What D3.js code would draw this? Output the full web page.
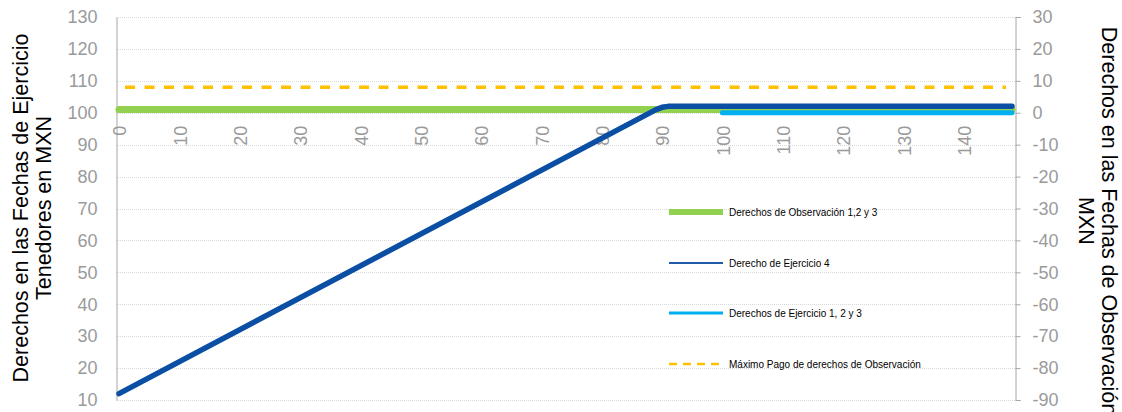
<!DOCTYPE html>
<html>
<head>
<meta charset="utf-8">
<script src="https://cdn.jsdelivr.net/npm/d3@7"></script>
<style>
  body { margin: 0; background: #fff; }
  svg { display: block; font-family: "Liberation Sans", Arial, sans-serif; }
</style>
</head>
<body>
<svg id="chart" width="1122" height="412"></svg>
<script>
// categories on the x axis (0..148) and the labels that are shown
var categories = d3.range(0, 149);
var xTickLabels = [0, 10, 20, 30, 40, 50, 60, 70, 80, 90, 100, 110, 120, 130, 140];
var leftTicks = [10, 20, 30, 40, 50, 60, 70, 80, 90, 100, 110, 120, 130];
var rightTicks = [-90, -80, -70, -60, -50, -40, -30, -20, -10, 0, 10, 20, 30];

// series, as [category, value on left axis] break points
var observacion = [[0, 101], [148, 101]];
var ejercicio4 = [[0, 12], [89, 101], [90, 101.7], [91, 102], [148, 102]];
var ejercicio123 = [[100, 100], [148, 100]];
var maximoPago = [[1, 108], [147, 108]];

var legendNames = [
  "Derechos de Observación 1,2 y 3",
  "Derecho de Ejercicio 4",
  "Derechos de Ejercicio 1, 2 y 3",
  "Máximo Pago de derechos de Observación"
];

var svg = d3.select("#chart");
var plotLeft = 116, plotRight = 1015, plotTop = 17, plotBottom = 400;

var x = d3.scaleBand().domain(categories).range([plotLeft, plotRight]).padding(0);
var y = d3.scaleLinear().domain([10, 130]).range([plotBottom, plotTop]);
var yRight = d3.scaleLinear().domain([-90, 30]).range([plotBottom, plotTop]);

function xc(c) { return x(c) + x.bandwidth() / 2; }

// gridlines
svg.append("g")
  .selectAll("line")
  .data(leftTicks)
  .enter()
  .append("line")
  .attr("x1", plotLeft)
  .attr("x2", plotRight)
  .attr("y1", function (d) { return Math.round(y(d)) + 0.5; })
  .attr("y2", function (d) { return Math.round(y(d)) + 0.5; })
  .style("stroke", "#d9d9d9")
  .style("stroke-dasharray", "1,1");

// left axis
var leftAxis = svg.append("g")
  .attr("transform", "translate(" + (plotLeft + 0.5) + ",0)")
  .call(d3.axisLeft(y).tickValues(leftTicks).tickSize(0).tickPadding(19));
leftAxis.select(".domain").style("stroke", "#a6a6a6");
leftAxis.selectAll("text")
  .attr("font-size", "18px")
  .attr("font-family", "Liberation Sans, Arial, sans-serif")
  .attr("fill", "#9a9a9a");

// right axis
var rightAxis = svg.append("g")
  .attr("transform", "translate(" + (plotRight + 0.5) + ",0)")
  .call(d3.axisRight(yRight).tickValues(rightTicks).tickSize(5).tickPadding(12)
    .tickFormat(function (d) { return d < 0 ? "-" + Math.abs(d) : d; }));
rightAxis.selectAll(".domain, line").style("stroke", "#a6a6a6");
rightAxis.selectAll("text")
  .attr("font-size", "18px")
  .attr("font-family", "Liberation Sans, Arial, sans-serif")
  .attr("fill", "#9a9a9a");

// x labels, rotated, sitting under the 100 line
svg.append("g")
  .selectAll("text")
  .data(xTickLabels)
  .enter()
  .append("text")
  .attr("transform", function (d) {
    return "translate(" + (xc(d) + 1) + "," + (y(100) + 13) + ") rotate(-90)";
  })
  .attr("text-anchor", "end")
  .attr("dy", "0.35em")
  .attr("font-size", "18px")
  .attr("fill", "#9a9a9a")
  .text(function (d) { return d; });

var line = d3.line()
  .x(function (d) { return xc(d[0]); })
  .y(function (d) { return y(d[1]); });

svg.append("path")
  .datum(observacion)
  .attr("d", line)
  .style("fill", "none")
  .style("stroke", "#92d050")
  .style("stroke-width", 7)
  .style("stroke-linecap", "round");

svg.append("path")
  .datum(ejercicio123)
  .attr("d", line)
  .style("fill", "none")
  .style("stroke", "#00b0f0")
  .style("stroke-width", 5)
  .style("stroke-linecap", "round");

svg.append("path")
  .datum(ejercicio4)
  .attr("d", line)
  .style("fill", "none")
  .style("stroke", "#0a4fa3")
  .style("stroke-width", 5.5)
  .style("stroke-linecap", "round")
  .style("stroke-linejoin", "round");

svg.append("path")
  .datum(maximoPago)
  .attr("d", line)
  .style("fill", "none")
  .style("stroke", "#ffc000")
  .style("stroke-width", 3.5)
  .style("stroke-dasharray", "10,9.5");

// legend
var legendStyles = [
  { color: "#92d050", width: 6, dash: null },
  { color: "#1f5aa6", width: 2, dash: null },
  { color: "#00b0f0", width: 3, dash: null },
  { color: "#ffc000", width: 2.5, dash: "8,6" }
];
var legendY = [212, 263, 313, 364];

var legend = svg.append("g")
  .selectAll("g")
  .data(legendNames)
  .enter()
  .append("g")
  .attr("transform", function (d, i) { return "translate(669," + legendY[i] + ")"; });

legend.append("line")
  .attr("x1", 0)
  .attr("x2", 54)
  .style("stroke", function (d, i) { return legendStyles[i].color; })
  .style("stroke-width", function (d, i) { return legendStyles[i].width; })
  .style("stroke-dasharray", function (d, i) { return legendStyles[i].dash; });

legend.append("text")
  .attr("x", 60)
  .attr("dy", "0.35em")
  .attr("font-size", "10px")
  .attr("fill", "#000")
  .text(function (d) { return d; });

// axis titles
var leftTitle = svg.append("text")
  .attr("transform", "translate(28,208) rotate(-90)")
  .attr("text-anchor", "middle")
  .attr("font-size", "21.5px")
  .attr("fill", "#000");
leftTitle.append("tspan").attr("x", 0).attr("y", 0).text("Derechos en las Fechas de Ejercicio");
leftTitle.append("tspan").attr("x", 0).attr("y", 23).text("Tenedores en MXN");

var rightTitle = svg.append("text")
  .attr("transform", "translate(1102,221) rotate(90)")
  .attr("text-anchor", "middle")
  .attr("font-size", "21.5px")
  .attr("fill", "#000");
rightTitle.append("tspan").attr("x", 0).attr("y", 0).text("Derechos en las Fechas de Observación");
rightTitle.append("tspan").attr("x", 0).attr("y", 23).text("MXN");
</script>
</body>
</html>
